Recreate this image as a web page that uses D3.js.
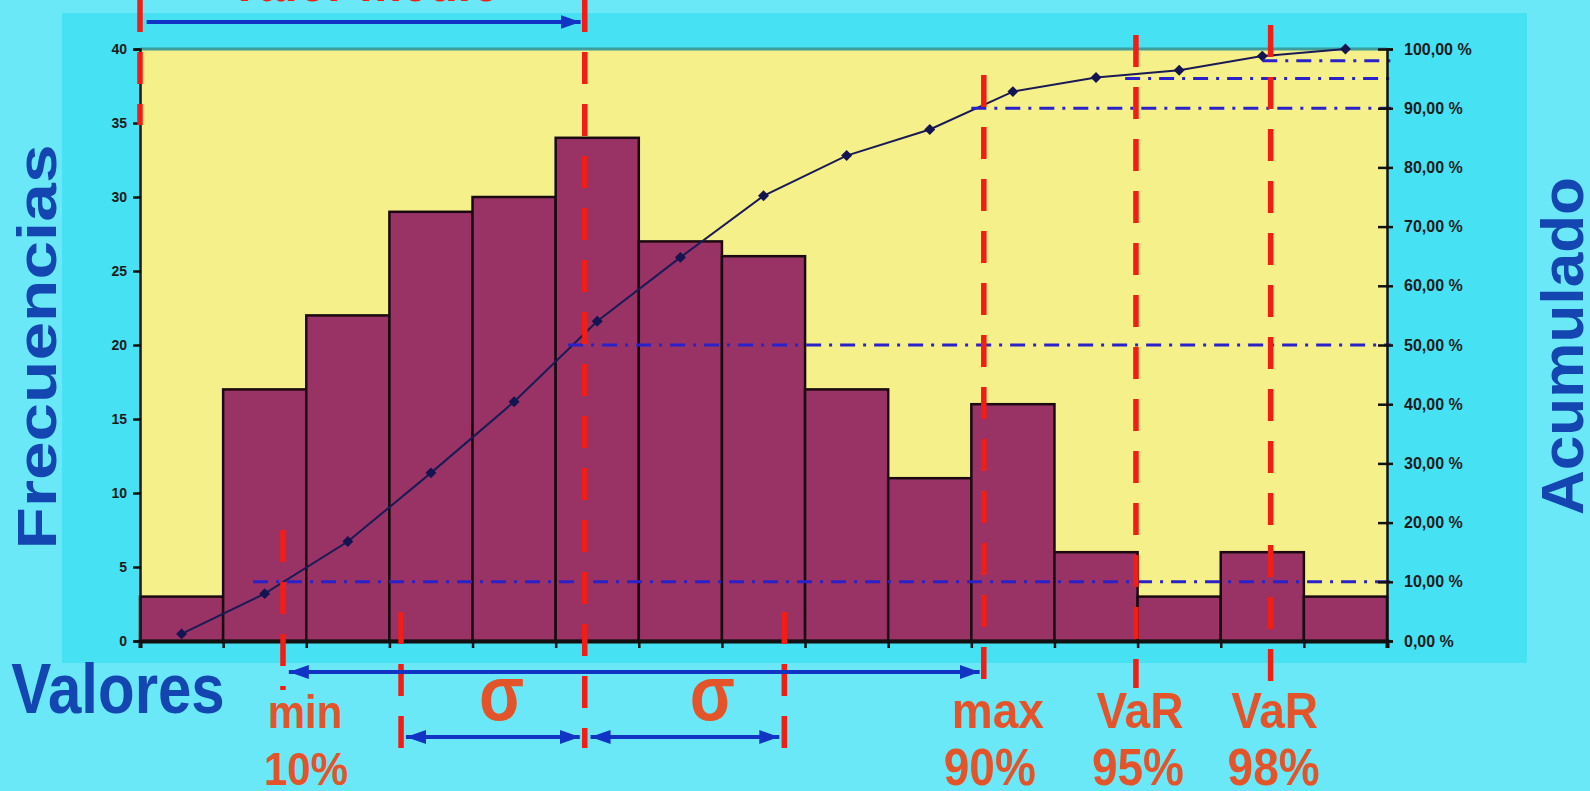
<!DOCTYPE html>
<html>
<head>
<meta charset="utf-8">
<script src="https://cdn.jsdelivr.net/npm/d3@7"></script>
<style>
  html, body { margin: 0; padding: 0; background: #6be8f7; }
  svg { display: block; font-family: "Liberation Sans", Arial, sans-serif; }
</style>
</head>
<body>
<svg id="chart" width="1590" height="791"></svg>
<script>
// histogram classes and frequencies
var clases = ["1", "2", "3", "4", "5", "6", "7", "8", "9", "10", "11", "12", "13", "14", "15"];
var frecuencias = [3, 17, 22, 29, 30, 34, 27, 26, 17, 11, 16, 6, 3, 6, 3];
// cumulative share
var acumulado = [0.012, 0.08, 0.168, 0.284, 0.404, 0.54, 0.648, 0.752, 0.82, 0.864, 0.928, 0.952, 0.964, 0.988, 1.0];

var freqTicks = [0, 5, 10, 15, 20, 25, 30, 35, 40];
var pctTicks = [0, 0.1, 0.2, 0.3, 0.4, 0.5, 0.6, 0.7, 0.8, 0.9, 1.0];

// cut points in class units (0 = left edge of first class)
var cortes = { inicio: 0, min: 1.72, sigmaIzq: 3.14, media: 5.35, sigmaDer: 7.75, max: 10.15, var95: 11.98, var98: 13.6 };
// percentile levels and where their guide lines start
var niveles = [0.10, 0.50, 0.90, 0.95, 0.98];
var nivelDesde = [1.36, 5.15, 10.0, 11.85, 13.5];

(function() {
  var svg = d3.select("#chart");
  var W = 1590, H = 791;
  var mL = 140, mR = 1387, mT = 49, mB = 641;

  var x = d3.scaleBand().domain(clases).range([mL, mR]).paddingInner(0);
  var xv = d3.scaleLinear().domain([0, clases.length]).range([mL, mR]);
  var y = d3.scaleLinear().domain([0, 40]).range([mB, mT]);
  var yR = d3.scaleLinear().domain([0, 1]).range([mB, mT]);

  var blue = "#1234c4", red = "#f21d14", orange = "#e4542a", titleBlue = "#1446b2";

  // arrow heads
  var defs = svg.append("defs");
  defs.append("marker")
      .attr("id", "head")
      .attr("viewBox", "0 0 20 14")
      .attr("refX", 20).attr("refY", 7)
      .attr("markerWidth", 20).attr("markerHeight", 14)
      .attr("markerUnits", "userSpaceOnUse")
      .attr("orient", "auto-start-reverse")
    .append("path")
      .attr("d", "M0,0 L20,7 L0,14 Z")
      .attr("fill", blue);

  // backgrounds
  svg.append("rect").attr("width", W).attr("height", H).attr("fill", "#6be8f7");
  svg.append("rect").attr("x", 62).attr("y", 13).attr("width", 1465).attr("height", 650).attr("fill", "#46e1f3");
  svg.append("rect")
      .attr("x", mL).attr("y", mT)
      .attr("width", mR - mL).attr("height", mB - mT)
      .attr("fill", "#f6f08b");
  svg.append("line")
      .attr("x1", mL).attr("x2", mR).attr("y1", mT).attr("y2", mT)
      .attr("stroke", "#3f9e9a").attr("stroke-width", 3);

  // bars
  svg.append("g").selectAll("rect")
      .data(frecuencias)
    .enter().append("rect")
      .attr("x", function(d, i) { return x(clases[i]); })
      .attr("y", function(d) { return y(d); })
      .attr("width", x.bandwidth())
      .attr("height", function(d) { return mB - y(d); })
      .attr("fill", "#993366")
      .attr("stroke", "#1a0a10")
      .attr("stroke-width", 2.5);

  // cumulative curve
  var curva = d3.line()
      .x(function(d, i) { return x(clases[i]) + x.bandwidth() / 2; })
      .y(function(d) { return yR(d); });

  svg.append("path")
      .datum(acumulado)
      .attr("d", curva)
      .attr("fill", "none")
      .attr("stroke", "#1a1a55")
      .attr("stroke-width", 2);

  svg.append("g").selectAll("path")
      .data(acumulado)
    .enter().append("path")
      .attr("d", d3.symbol().type(d3.symbolSquare).size(60))
      .attr("transform", function(d, i) {
        return "translate(" + (x(clases[i]) + x.bandwidth() / 2) + "," + yR(d) + ") rotate(45)";
      })
      .attr("fill", "#141450");

  // percentile guide lines
  svg.append("g").selectAll("line")
      .data(niveles)
    .enter().append("line")
      .attr("x1", function(d, i) { return xv(nivelDesde[i]); })
      .attr("x2", mR + 4)
      .attr("y1", function(d) { return yR(d); })
      .attr("y2", function(d) { return yR(d); })
      .attr("stroke", "#2a22c8")
      .attr("stroke-width", 3)
      .attr("stroke-dasharray", "15,8,3,8");

  // axes
  var axisL = svg.append("g")
      .attr("transform", "translate(" + mL + ",0)")
      .call(d3.axisLeft(y).tickValues(freqTicks).tickSize(7).tickPadding(6));
  var axisR = svg.append("g")
      .attr("transform", "translate(" + mR + ",0)")
      .call(d3.axisRight(yR).tickValues(pctTicks).tickSize(6).tickPadding(11)
        .tickFormat(function(d) { return (d * 100).toFixed(2).replace(".", ",") + " %"; }));
  axisR.selectAll(".tick line").attr("x1", -9);
  var axisB = svg.append("g")
      .attr("transform", "translate(0," + mB + ")")
      .call(d3.axisBottom(xv).tickValues(d3.range(0, clases.length + 1)).tickSize(7).tickFormat(""));

  [axisL, axisR, axisB].forEach(function(g) {
    g.select(".domain").attr("stroke", "#111").attr("stroke-width", 2.5);
    g.selectAll(".tick line").attr("stroke", "#111").attr("stroke-width", 2.5);
    g.selectAll(".tick text")
      .attr("fill", "#1b1b1b")
      .attr("font-size", 14)
      .attr("font-weight", "bold")
      .attr("font-family", "'Liberation Sans', Arial, sans-serif");
  });
  axisR.selectAll(".tick text").attr("font-size", 16);
  axisB.select(".domain").attr("stroke-width", 4);

  // red dashed cut lines, vertical extent per cut
  var rojas = [
    { x: cortes.inicio, y0: 0, y1: 125 },
    { x: cortes.min, y0: 530, y1: 690 },
    { x: cortes.sigmaIzq, y0: 612, y1: 748 },
    { x: cortes.media, y0: 0, y1: 748 },
    { x: cortes.sigmaDer, y0: 612, y1: 748 },
    { x: cortes.max, y0: 75, y1: 690 },
    { x: cortes.var95, y0: 35, y1: 688 },
    { x: cortes.var98, y0: 25, y1: 682 }
  ];
  svg.append("g").selectAll("line")
      .data(rojas)
    .enter().append("line")
      .attr("x1", function(d) { return xv(d.x); })
      .attr("x2", function(d) { return xv(d.x); })
      .attr("y1", function(d) { return d.y0; })
      .attr("y2", function(d) { return d.y1; })
      .attr("stroke", red)
      .attr("stroke-width", 5.5)
      .attr("stroke-dasharray", "32,20");

  // blue arrows
  var flechas = [
    { a: cortes.inicio + 0.08, b: cortes.media - 0.05, y: 22, doble: false },
    { a: cortes.min + 0.07, b: cortes.max - 0.05, y: 672, doble: true },
    { a: cortes.sigmaIzq + 0.06, b: cortes.media - 0.06, y: 737, doble: true },
    { a: cortes.media + 0.07, b: cortes.sigmaDer - 0.06, y: 737, doble: true }
  ];
  svg.append("g").selectAll("line")
      .data(flechas)
    .enter().append("line")
      .attr("x1", function(d) { return xv(d.a); })
      .attr("x2", function(d) { return xv(d.b); })
      .attr("y1", function(d) { return d.y; })
      .attr("y2", function(d) { return d.y; })
      .attr("stroke", blue)
      .attr("stroke-width", 4)
      .attr("marker-end", "url(#head)")
      .attr("marker-start", function(d) { return d.doble ? "url(#head)" : null; });

  // texts
  function etiqueta(txt, cx, by, size, color, sy) {
    svg.append("text")
      .attr("transform", "translate(" + cx + "," + by + ") scale(1," + (sy || 1.18) + ")")
      .attr("text-anchor", "middle")
      .attr("font-size", size)
      .attr("font-weight", "bold")
      .attr("fill", color)
      .text(txt);
  }

  etiqueta("Valor medio", xv(2.7), 1, 48, red);
  etiqueta("Valores", 118, 713, 60, titleBlue);
  etiqueta("min", xv(cortes.min) + 22, 728, 42, orange, 1.1);
  etiqueta("10%", xv(cortes.min) + 23, 785, 42, orange, 1.12);
  etiqueta("\u03C3", xv(4.35), 720, 66, orange);
  etiqueta("\u03C3", xv(6.8) + 7, 720, 66, orange);
  etiqueta("max", xv(cortes.max) + 14, 728, 46, orange, 1.1);
  etiqueta("90%", xv(cortes.max) + 6, 785, 46, orange, 1.12);
  etiqueta("VaR", xv(cortes.var95) + 4, 728, 46, orange, 1.1);
  etiqueta("95%", xv(cortes.var95) + 2, 785, 46, orange, 1.12);
  etiqueta("VaR", xv(cortes.var98) + 4, 728, 46, orange, 1.1);
  etiqueta("98%", xv(cortes.var98) + 3, 785, 46, orange, 1.12);

  svg.append("text")
      .attr("transform", "translate(56,347) rotate(-90)")
      .attr("text-anchor", "middle")
      .attr("font-size", 56)
      .attr("font-weight", "bold")
      .attr("fill", titleBlue)
      .attr("textLength", 405)
      .attr("lengthAdjust", "spacingAndGlyphs")
      .text("Frecuencias");

  svg.append("text")
      .attr("transform", "translate(1583,346) rotate(-90)")
      .attr("text-anchor", "middle")
      .attr("font-size", 60)
      .attr("font-weight", "bold")
      .attr("fill", titleBlue)
      .attr("textLength", 338)
      .attr("lengthAdjust", "spacingAndGlyphs")
      .text("Acumulado");
})();
</script>
</body>
</html>
